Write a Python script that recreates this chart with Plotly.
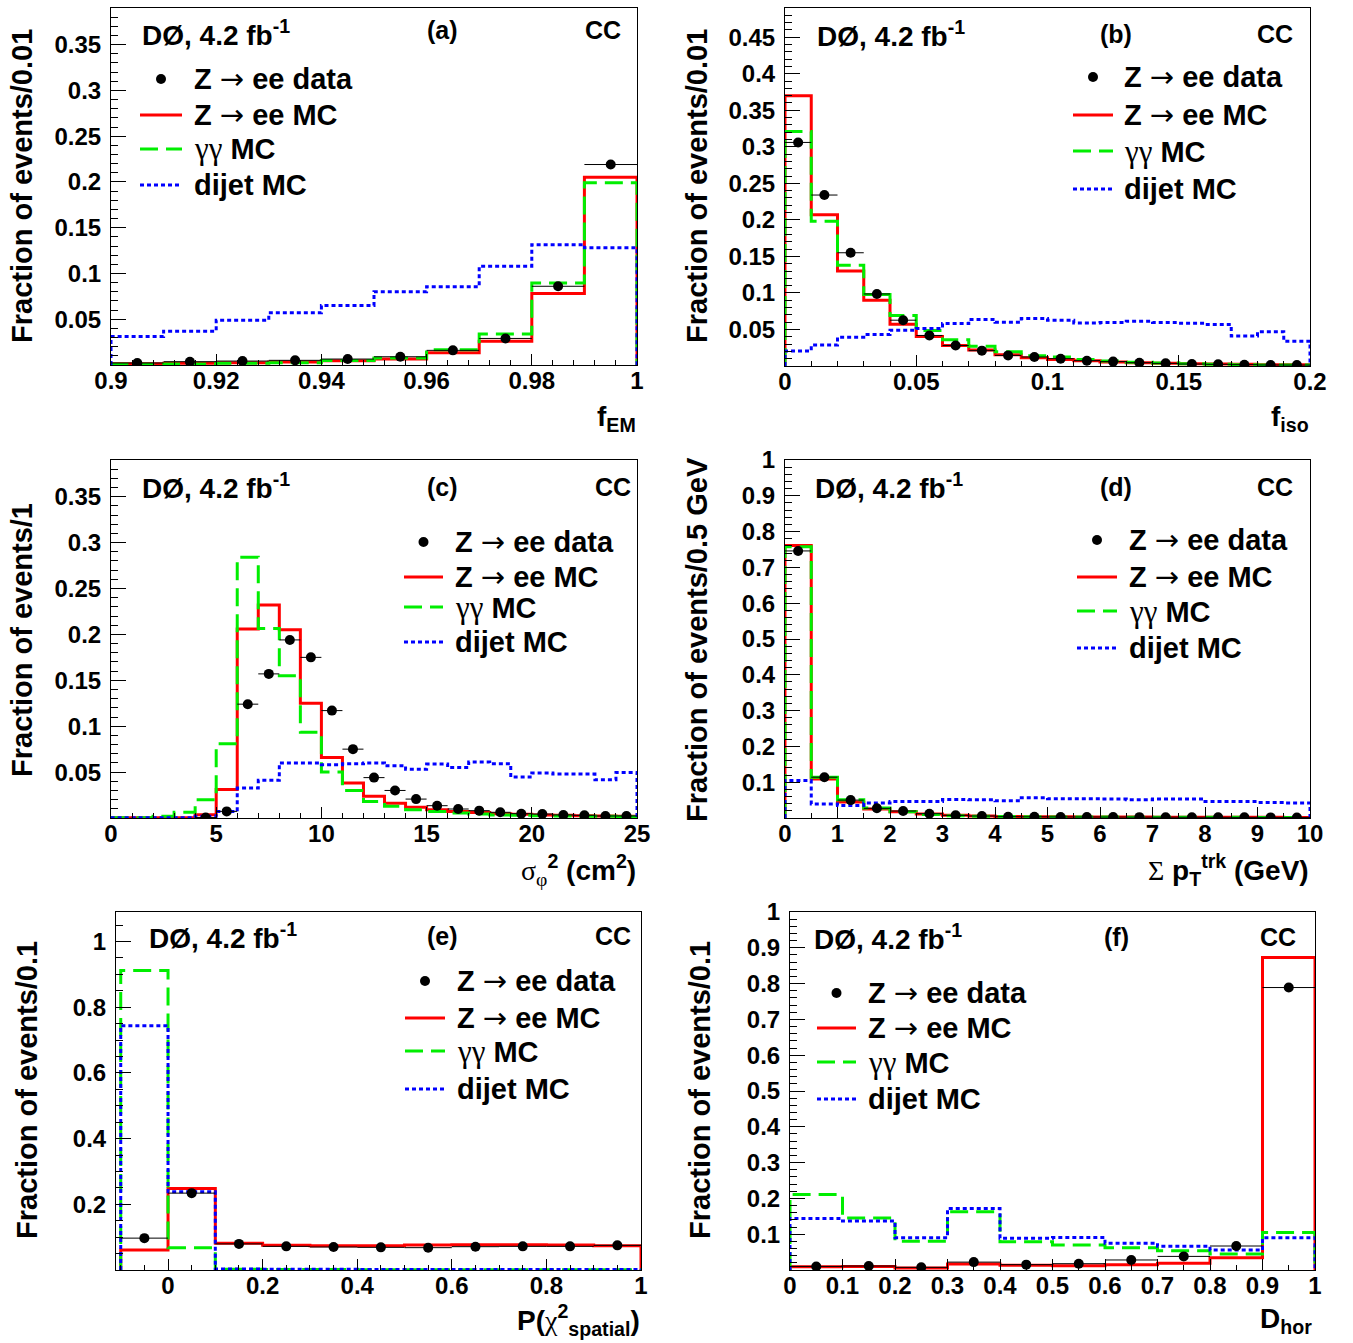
import numpy as np
import plotly.graph_objects as go

W, H = 1353, 1343

# ---------------- data ----------------
# (a) f_EM, 10 bins 0.90-1.00
a_lo, a_hi = 0.9, 1.0
a_data = [0.0022, 0.0036, 0.0043, 0.0051, 0.0065, 0.0090, 0.0160, 0.0290, 0.0860, 0.2190]
a_zee = [0.0015, 0.0020, 0.0025, 0.0033, 0.0047, 0.0065, 0.0134, 0.0260, 0.0780, 0.2050]
a_gg = [0.0007, 0.0010, 0.0018, 0.0025, 0.0050, 0.0076, 0.0167, 0.0340, 0.0895, 0.1990]
a_dijet = [0.031, 0.037, 0.049, 0.057, 0.065, 0.080, 0.0855, 0.108, 0.1315, 0.128]

# (b) f_iso, 20 bins 0-0.2
b_lo, b_hi = 0.0, 0.2
b_data = [0.306, 0.234, 0.155, 0.0986, 0.0627, 0.0418, 0.028, 0.021, 0.0145, 0.0123,
          0.010, 0.0073, 0.006, 0.0045, 0.0036, 0.0027, 0.0023, 0.0018, 0.0014, 0.0013]
b_zee = [0.370, 0.207, 0.130, 0.090, 0.057, 0.0405, 0.028, 0.022, 0.0155, 0.0114,
         0.009, 0.0073, 0.0055, 0.0045, 0.0036, 0.003, 0.0027, 0.0023, 0.0018, 0.0018]
b_gg = [0.321, 0.198, 0.138, 0.0977, 0.069, 0.0486, 0.036, 0.027, 0.0195, 0.014,
        0.0123, 0.009, 0.0068, 0.005, 0.004, 0.003, 0.0023, 0.0018, 0.0014, 0.0014]
b_dijet = [0.0205, 0.0286, 0.0395, 0.043, 0.049, 0.0514, 0.058, 0.0636, 0.060, 0.065,
           0.0627, 0.059, 0.0595, 0.0614, 0.0595, 0.0586, 0.0568, 0.041, 0.047, 0.034]

# (c) sigma_phi^2, 25 bins 0-25
c_lo, c_hi = 0.0, 25.0
c_data = [None, None, None, None, 0.0005, 0.0072, 0.124, 0.157, 0.194, 0.175, 0.117, 0.075, 0.044,
          0.030, 0.0206, 0.0134, 0.0098, 0.008, 0.0062, 0.0047, 0.0043, 0.0033, 0.0029, 0.0022, 0.0022]
c_zee = [0.0004, 0.0004, 0.0004, 0.0004, 0.0036, 0.031, 0.206, 0.232, 0.205, 0.125, 0.066, 0.038, 0.0236,
         0.016, 0.0116, 0.009, 0.0072, 0.006, 0.0047, 0.004, 0.0033, 0.0029, 0.0025, 0.0022, 0.0018]
c_gg = [0.0004, 0.0004, 0.0018, 0.0062, 0.020, 0.081, 0.284, 0.2065, 0.155, 0.0935, 0.050, 0.030, 0.018,
        0.0127, 0.009, 0.0072, 0.0054, 0.0043, 0.0033, 0.0029, 0.0025, 0.0022, 0.0018, 0.0018, 0.0014]
c_dijet = [0.0004, 0.0004, 0.0004, 0.0004, 0.0018, 0.0072, 0.0326, 0.041, 0.060, 0.060, 0.058, 0.059, 0.060,
           0.057, 0.053, 0.0587, 0.055, 0.061, 0.059, 0.0446, 0.049, 0.0478, 0.0478, 0.0417, 0.0496]

# (d) sum pT trk, 20 bins 0-10 GeV
d_lo, d_hi = 0.0, 10.0
d_data = [0.746, 0.114, 0.050, 0.027, 0.0195, 0.012, 0.0074, 0.0056, 0.0037, 0.0033,
          0.003, 0.0028, 0.0026, 0.0024, 0.0022, 0.002, 0.0019, 0.0018, 0.0017, 0.0016]
d_zee = [0.761, 0.109, 0.0446, 0.025, 0.0176, 0.011, 0.0074, 0.0056, 0.0045, 0.0038,
         0.0033, 0.003, 0.0028, 0.0026, 0.0024, 0.0022, 0.002, 0.0019, 0.0018, 0.0017]
d_gg = [0.758, 0.114, 0.051, 0.028, 0.0176, 0.010, 0.0065, 0.0050, 0.0040, 0.0034,
        0.003, 0.0027, 0.0025, 0.0023, 0.0021, 0.002, 0.0019, 0.0018, 0.0017, 0.0016]
d_dijet = [0.105, 0.039, 0.035, 0.042, 0.046, 0.046, 0.052, 0.051, 0.048, 0.0566,
           0.054, 0.054, 0.053, 0.051, 0.053, 0.053, 0.046, 0.046, 0.0436, 0.042]

# (e) P(chi2 spatial), 11 bins -0.1-1.0
e_lo, e_hi = -0.1, 1.0
e_data = [0.097, 0.234, 0.0795, 0.072, 0.070, 0.069, 0.068, 0.071, 0.072, 0.072, 0.075]
e_zee = [0.061, 0.248, 0.0815, 0.075, 0.074, 0.074, 0.076, 0.077, 0.077, 0.076, 0.074]
e_gg = [0.912, 0.068, 0.002, 0.0015, 0.0012, 0.001, 0.001, 0.001, 0.001, 0.001, 0.001]
e_dijet = [0.744, 0.238, 0.003, 0.002, 0.002, 0.0015, 0.0015, 0.0015, 0.0015, 0.0015, 0.0015]

# (f) D_hor, 10 bins 0-1
f_lo, f_hi = 0.0, 1.0
f_data = [0.010, 0.011, 0.0074, 0.022, 0.015, 0.0176, 0.028, 0.038, 0.067, 0.789]
f_zee = [0.0093, 0.010, 0.0056, 0.0167, 0.013, 0.012, 0.015, 0.0186, 0.034, 0.873]
f_gg = [0.2106, 0.145, 0.080, 0.163, 0.079, 0.0696, 0.062, 0.054, 0.0445, 0.105]
f_dijet = [0.144, 0.137, 0.090, 0.172, 0.089, 0.091, 0.075, 0.066, 0.0557, 0.090]

# tick labels
a_xticks = [0.9, 0.92, 0.94, 0.96, 0.98, 1.0]
a_xlabels = ["0.9", "0.92", "0.94", "0.96", "0.98", "1"]
b_xticks = [0, 0.05, 0.1, 0.15, 0.2]
b_xlabels = ["0", "0.05", "0.1", "0.15", "0.2"]
c_xticks = [0, 5, 10, 15, 20, 25]
c_xlabels = ["0", "5", "10", "15", "20", "25"]
d_xticks = list(range(0, 11))
d_xlabels = [str(v) for v in d_xticks]
e_xticks = [0, 0.2, 0.4, 0.6, 0.8, 1.0]
e_xlabels = ["0", "0.2", "0.4", "0.6", "0.8", "1"]
f_xticks = [0, 0.1, 0.2, 0.3, 0.4, 0.5, 0.6, 0.7, 0.8, 0.9, 1.0]
f_xlabels = ["0", "0.1", "0.2", "0.3", "0.4", "0.5", "0.6", "0.7", "0.8", "0.9", "1"]

y_small_ticks = [0.05, 0.1, 0.15, 0.2, 0.25, 0.3, 0.35]
y_small_labels = ["0.05", "0.1", "0.15", "0.2", "0.25", "0.3", "0.35"]
yb_ticks = [0.05, 0.1, 0.15, 0.2, 0.25, 0.3, 0.35, 0.4, 0.45]
yb_labels = ["0.05", "0.1", "0.15", "0.2", "0.25", "0.3", "0.35", "0.4", "0.45"]
y_unit_ticks = [0.1, 0.2, 0.3, 0.4, 0.5, 0.6, 0.7, 0.8, 0.9, 1.0]
y_unit_labels = ["0.1", "0.2", "0.3", "0.4", "0.5", "0.6", "0.7", "0.8", "0.9", "1"]
ye_ticks = [0.2, 0.4, 0.6, 0.8, 1.0]
ye_labels = ["0.2", "0.4", "0.6", "0.8", "1"]

# ---------------- style / layout ----------------
FONT = "Liberation Sans"
RED, GREEN, BLUE = "#ff0000", "#00ee00", "#0000ff"


def PX(x):
    return x / W


def PY(y):
    return 1 - y / H


panels = [
    dict(lo=a_lo, hi=a_hi, data=a_data, zee=a_zee, gg=a_gg, dijet=a_dijet,
         box=(111, 637, 8, 365), xr=[0.9, 1.0], yr=[0, 0.39],
         xt=(a_xticks, a_xlabels), yt=(y_small_ticks, y_small_labels), xminor=0.004, yminor=0.01,
         ytitle="Fraction of events/0.01", ytpos=(22, 186),
         head=((140, 33), (443, 30), (603, 30), "(a)"),
         leg=(140, 182, 192, [79, 115, 149, 185])),
    dict(lo=b_lo, hi=b_hi, data=b_data, zee=b_zee, gg=b_gg, dijet=b_dijet,
         box=(785, 1310, 8, 366), xr=[0, 0.2], yr=[0, 0.49],
         xt=(b_xticks, b_xlabels), yt=(yb_ticks, yb_labels), xminor=0.01, yminor=0.01,
         ytitle="Fraction of events/0.01", ytpos=(697, 186),
         head=((815, 34), (1116, 34), (1275, 34), "(b)"),
         leg=(1073, 1113, 1122, [77, 115, 151, 189])),
    dict(lo=c_lo, hi=c_hi, data=c_data, zee=c_zee, gg=c_gg, dijet=c_dijet,
         box=(111, 637, 460, 818), xr=[0, 25], yr=[0, 0.39],
         xt=(c_xticks, c_xlabels), yt=(y_small_ticks, y_small_labels), xminor=1, yminor=0.01,
         ytitle="Fraction of events/1", ytpos=(22, 640),
         head=((140, 486), (443, 487), (613, 487), "(c)"),
         leg=(404, 443, 453, [542, 577, 607, 642])),
    dict(lo=d_lo, hi=d_hi, data=d_data, zee=d_zee, gg=d_gg, dijet=d_dijet,
         box=(785, 1310, 460, 818), xr=[0, 10], yr=[0, 1.0],
         xt=(d_xticks, d_xlabels), yt=(y_unit_ticks, y_unit_labels), xminor=0.5, yminor=0.02,
         ytitle="Fraction of events/0.5 GeV", ytpos=(697, 640),
         head=((813, 486), (1116, 487), (1275, 487), "(d)"),
         leg=(1077, 1117, 1127, [540, 577, 611, 648])),
    dict(lo=e_lo, hi=e_hi, data=e_data, zee=e_zee, gg=e_gg, dijet=e_dijet,
         box=(116, 641, 912, 1270), xr=[-0.11, 1.0], yr=[0, 1.09],
         xt=(e_xticks, e_xlabels), yt=(ye_ticks, ye_labels), xminor=0.05, yminor=0.05,
         ytitle="Fraction of events/0.1", ytpos=(27, 1090),
         head=((147, 936), (443, 936), (613, 936), "(e)"),
         leg=(405, 445, 455, [981, 1018, 1051, 1089])),
    dict(lo=f_lo, hi=f_hi, data=f_data, zee=f_zee, gg=f_gg, dijet=f_dijet,
         box=(790, 1315, 912, 1270), xr=[0, 1.0], yr=[0, 1.0],
         xt=(f_xticks, f_xlabels), yt=(y_unit_ticks, y_unit_labels), xminor=0.05, yminor=0.02,
         ytitle="Fraction of events/0.1", ytpos=(700, 1090),
         head=((812, 937), (1116, 937), (1278, 937), "(f)"),
         leg=(817, 856, 866, [993, 1028, 1062, 1099])),
]

fig = go.Figure()
annotations = []
shapes = []
layout = {}

GREEN_DASH = "18px,8px"
BLUE_DOT = "4px,3px"

ARROW = "<span style='font-family:DejaVu Sans;font-weight:normal'>→</span>"
GAM = "<span style='font-family:Liberation Serif;font-weight:normal;font-size:31px'>γγ</span>"


def sym(s):
    return "<span style='font-family:Liberation Serif;font-weight:normal'>" + s + "</span>"


def step_xy(edges, vals):
    xs = [edges[0]] + list(edges)
    ys = [0.0] + list(vals) + [0.0]
    return xs, ys


for i, p in enumerate(panels, start=1):
    sfx = "" if i == 1 else str(i)
    xa, ya = "x" + sfx, "y" + sfx
    n = len(p["zee"])
    edges = np.linspace(p["lo"], p["hi"], n + 1)
    centers = 0.5 * (edges[:-1] + edges[1:])
    half = 0.5 * (edges[1] - edges[0])

    for key, col, dash in (("zee", RED, "solid"), ("gg", GREEN, GREEN_DASH), ("dijet", BLUE, BLUE_DOT)):
        xs, ys = step_xy(edges, p[key])
        fig.add_trace(go.Scatter(x=xs, y=ys, mode="lines", line=dict(color=col, width=3, dash=dash, shape="hv"),
                                 xaxis=xa, yaxis=ya, showlegend=False, hoverinfo="skip"))
    fig.add_trace(go.Scatter(x=centers, y=p["data"], mode="markers",
                             marker=dict(color="black", size=10),
                             error_x=dict(type="constant", value=half, thickness=1, width=0, color="black"),
                             xaxis=xa, yaxis=ya, showlegend=False, hoverinfo="skip"))

    x0, x1, y0, y1 = p["box"]
    common = dict(showline=True, linecolor="black", linewidth=1, mirror=True, showgrid=False,
                  zeroline=False, ticks="inside", tickcolor="black", tickwidth=1, automargin=False,
                  tickfont=dict(family=FONT, size=24, color="black", weight="bold"))
    layout["xaxis" + sfx] = dict(common, domain=[PX(x0), PX(x1)], range=p["xr"], anchor=ya,
                                  tickmode="array", tickvals=p["xt"][0], ticktext=p["xt"][1], ticklen=11,
                                  ticklabelstandoff=-6,
                                  minor=dict(ticks="inside", ticklen=5, dtick=p["xminor"], tick0=0,
                                             tickcolor="black", showgrid=False))
    layout["yaxis" + sfx] = dict(common, domain=[PY(y1), PY(y0)], range=p["yr"], anchor=xa,
                                  tickmode="array", tickvals=p["yt"][0], ticktext=p["yt"][1], ticklen=15,
                                  ticklabelstandoff=4,
                                  minor=dict(ticks="inside", ticklen=7, dtick=p["yminor"], tick0=0,
                                             tickcolor="black", showgrid=False))

    # y-axis title
    tx, ty = p["ytpos"]
    annotations.append(dict(x=PX(tx), y=PY(ty), xref="paper", yref="paper", text=p["ytitle"],
                            textangle=-90, showarrow=False, xanchor="center", yanchor="middle",
                            font=dict(family=FONT, size=29, color="black", weight="bold")))
    # header
    (dx, dy), (lx, lyy), (cx, cy), lab = p["head"]
    annotations.append(dict(x=PX(dx), y=PY(dy), xref="paper", yref="paper",
                            text="DØ, 4.2 fb<sup>-1</sup>", showarrow=False, xanchor="left", yanchor="middle",
                            font=dict(family=FONT, size=28, color="black", weight="bold")))
    annotations.append(dict(x=PX(lx), y=PY(lyy), xref="paper", yref="paper", text=lab, showarrow=False,
                            xanchor="center", yanchor="middle",
                            font=dict(family=FONT, size=25, color="black", weight="bold")))
    annotations.append(dict(x=PX(cx), y=PY(cy), xref="paper", yref="paper", text="CC", showarrow=False,
                            xanchor="center", yanchor="middle",
                            font=dict(family=FONT, size=25, color="black", weight="bold")))
    # legend
    lx0, lx1, tx0, rows = p["leg"]
    texts = ["Z " + ARROW + " ee data", "Z " + ARROW + " ee MC", GAM + " MC", "dijet MC"]
    for t, ry in zip(texts, rows):
        annotations.append(dict(x=PX(tx0), y=PY(ry), xref="paper", yref="paper", text=t, showarrow=False,
                                xanchor="left", yanchor="middle",
                                font=dict(family=FONT, size=29, color="black", weight="bold")))
    mx = 0.5 * (lx0 + lx1)
    r = 5
    shapes.append(dict(type="circle", xref="paper", yref="paper", x0=PX(mx - r), x1=PX(mx + r),
                       y0=PY(rows[0] + r), y1=PY(rows[0] - r), fillcolor="black", line=dict(width=0)))
    for ry, col, dash in zip(rows[1:], (RED, GREEN, BLUE), ("solid", GREEN_DASH, BLUE_DOT)):
        shapes.append(dict(type="line", xref="paper", yref="paper", x0=PX(lx0), x1=PX(lx1),
                           y0=PY(ry), y1=PY(ry), line=dict(color=col, width=3, dash=dash)))

# x-axis titles
TF = dict(family=FONT, size=28, color="black", weight="bold")


def ann(x, y, text, font, xanchor="right"):
    annotations.append(dict(x=PX(x), y=PY(y), xref="paper", yref="paper", text=text, showarrow=False,
                            xanchor=xanchor, yanchor="middle", font=font))


ann(638, 418, "f<sub>EM</sub>", TF)
ann(1311, 418, "f<sub>iso</sub>", TF)
ann(638, 870, sym("σ") + "<sub>" + sym("φ") + "</sub><sup>2</sup> (cm<sup>2</sup>)", TF)
ann(1311, 870, sym("Σ") + " p<sub>T</sub><sup>trk</sup> (GeV)", TF)
ann(642, 1320, "P(" + sym("χ") + "<sup>2</sup><sub>spatial</sub>)", TF)
ann(1314, 1320, "D<sub>hor</sub>", TF)

fig.update_layout(width=W, height=H, margin=dict(l=0, r=0, t=0, b=0, autoexpand=False), paper_bgcolor="white",
                  plot_bgcolor="white", showlegend=False, annotations=annotations, shapes=shapes, **layout)

fig.write_html("out.html")
